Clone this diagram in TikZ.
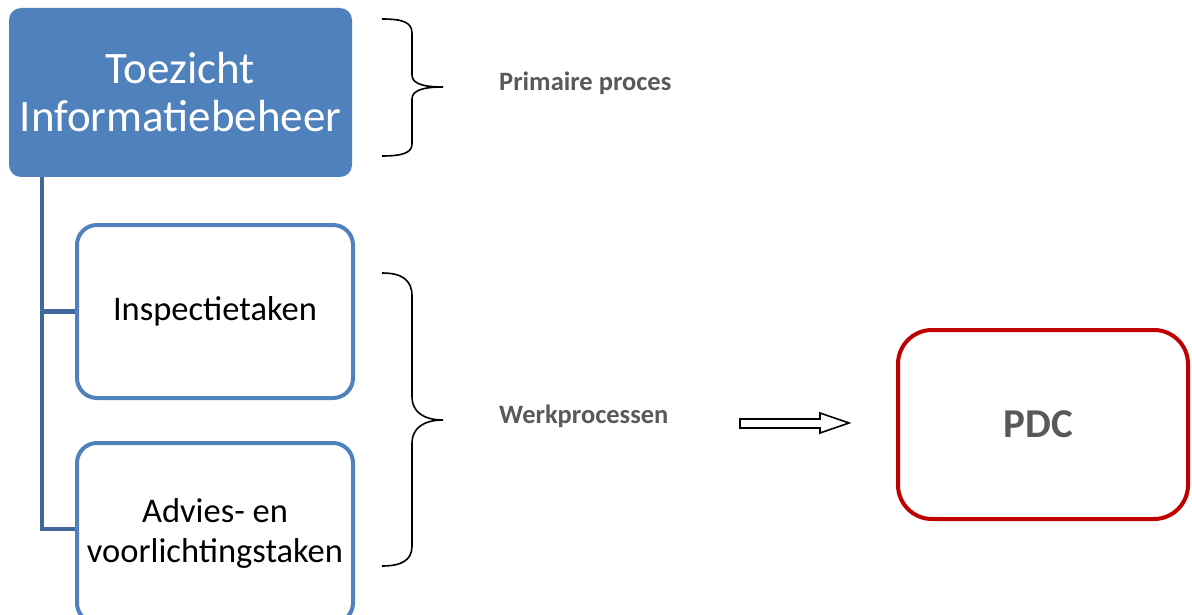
\documentclass[tikz,border=0pt]{standalone}
\usepackage{fontspec}
\setmainfont{Carlito}
\definecolor{boxblue}{HTML}{4F81BD}
\definecolor{trunkblue}{HTML}{41689A}
\definecolor{txtgray}{HTML}{595959}
\definecolor{pdcred}{HTML}{C00000}
\begin{document}
\begin{tikzpicture}[x=1pt,y=-1pt,
  topbox/.style={fill=boxblue, draw=none, rounded corners=12pt, minimum width=343pt, minimum height=169pt, text=white, align=center, font=\fontsize{45}{48}\selectfont, inner sep=0pt},
  subbox/.style={fill=white, draw=boxblue, line width=4pt, rounded corners=20pt, minimum width=276pt, minimum height=173pt, align=center, font=\fontsize{34.5}{40}\selectfont, inner sep=0pt},
  pdcbox/.style={fill=white, draw=pdcred, line width=4pt, rounded corners=34pt, minimum width=290pt, minimum height=189pt, text=txtgray, font=\fontsize{41}{48}\selectfont\bfseries, inner sep=0pt},
  conn/.style={draw=trunkblue, line width=4.5pt},
  bracestyle/.style={draw=black, line width=1.6pt},
  lbl/.style={text=txtgray, font=\fontsize{26.5}{30}\selectfont\bfseries, inner sep=0pt}
]
\useasboundingbox (0,0) rectangle (1192,615);
\fill[white] (0,0) rectangle (1192,615);

\node[topbox] (top) at (180.5,92.5) {Toezicht\\Informatiebeheer};
\node[subbox] (b2) at (215,311.5) {Inspectietaken};
\node[subbox, minimum height=180pt] (b3) at (215,533) {Advies- en\\voorlichtingstaken};
\node[pdcbox] (pdc) at (1043,424.5) {\hspace*{-9pt}PDC};

\coordinate (trunk) at ([xshift=33pt]top.south west);
\draw[conn] (trunk) |- (b2.west);
\draw[conn] (trunk) |- ([yshift=4pt]b3.west);

% braces
\draw[bracestyle] (382,19) .. controls (402,19) and (412,22) .. (412,33)
  -- (412,75) .. controls (412,84) and (424,87) .. (443,87)
  .. controls (424,87) and (412,90) .. (412,99)
  -- (412,144) .. controls (412,153) and (402,156) .. (382,156);
\draw[bracestyle] (382,273) .. controls (402,273) and (412,280) .. (412,296)
  -- (412,397) .. controls (412,412) and (424,420) .. (443,420)
  .. controls (424,420) and (412,428) .. (412,443)
  -- (412,546) .. controls (412,560) and (402,566) .. (382,566);

\node[lbl, anchor=base west] (prim) at (499,91) {Primaire proces};
\node[lbl, anchor=base west] (werk) at (499,423) {Werkprocessen};

% hollow block arrow
\draw[black, line width=1.6pt, line join=miter, fill=white]
  (740,419) -- (820,419) -- (820,413) -- (849,423) -- (820,433) -- (820,428) -- (740,428) -- cycle;
\end{tikzpicture}
\end{document}
